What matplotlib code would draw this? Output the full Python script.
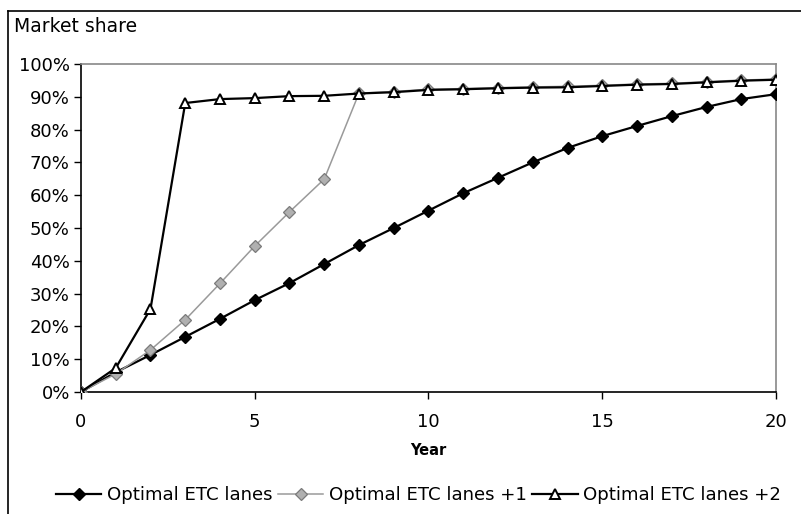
import matplotlib
matplotlib.use("Agg")
import matplotlib.pyplot as plt
from matplotlib.lines import Line2D
from matplotlib.ticker import FuncFormatter, MultipleLocator

years = list(range(0, 21))
optimal = [0, 6, 11.3, 16.8, 22.3, 28.0, 33.2, 39.0, 44.8, 50.0, 55.3,
           60.6, 65.3, 70.0, 74.4, 78.0, 81.1, 84.1, 86.9, 89.3, 90.8]
optimal_plus1 = [0, 5.5, 12.8, 22.0, 33.1, 44.5, 54.9, 64.9, 91.1, 91.6, 92.3,
                 92.5, 92.8, 93.0, 93.2, 93.5, 93.9, 94.1, 94.6, 95.1, 95.4]
optimal_plus2 = [0, 7.3, 25.3, 88.1, 89.3, 89.6, 90.2, 90.3, 91.0, 91.4, 92.1,
                 92.3, 92.6, 92.8, 92.9, 93.3, 93.7, 93.9, 94.4, 94.9, 95.2]
labels = ["Optimal ETC lanes", "Optimal ETC lanes +1", "Optimal ETC lanes +2"]

plt.rcParams['font.family'] = ['DejaVu Sans']

fig = plt.figure(figsize=(8.01, 5.14), dpi=100)
ax = fig.add_axes([0.1011, 0.2374, 0.8677, 0.6381])

ax.plot(years, optimal, color='black', lw=1.6, marker='D', ms=6,
        mfc='black', mec='black', label=labels[0], zorder=3)
ax.plot(years, optimal_plus1, color='#9a9a9a', lw=1.1, marker='D', ms=6.5,
        mfc='#b0b0b0', mec='#7a7a7a', mew=0.9, label=labels[1], zorder=4)
ax.plot(years, optimal_plus2, color='black', lw=1.6, marker='^', ms=7,
        mfc='white', mec='black', mew=1.4, label=labels[2], zorder=5)

ax.set_xlim(0, 20)
ax.set_ylim(0, 100)
ax.xaxis.set_major_locator(MultipleLocator(5))
ax.yaxis.set_major_locator(MultipleLocator(10))
ax.yaxis.set_major_formatter(FuncFormatter(lambda v, p: f"{int(round(v))}%"))
ax.tick_params(axis='both', direction='out', length=5, width=1.0,
               labelsize=13, colors='black')
ax.tick_params(axis='x', pad=10)
ax.tick_params(axis='y', pad=3)

for side in ('top', 'right'):
    ax.spines[side].set_color('#888888')
    ax.spines[side].set_linestyle((0, (1, 1)))
    ax.spines[side].set_linewidth(1.2)
for side in ('left', 'bottom'):
    ax.spines[side].set_color('black')
    ax.spines[side].set_linewidth(1.2)

ax.set_xlabel("Year", fontsize=10.5, fontweight='bold', labelpad=9)
fig.text(14 / 801, 1 - 26 / 514, "Market share", fontsize=13.5,
         ha='left', va='center')

ax.legend(loc='center', bbox_to_anchor=(0.5 + 18 / 801, 1 - 495 / 514),
          bbox_transform=fig.transFigure, ncol=3, frameon=False,
          fontsize=13.1, handlelength=2.5, handletextpad=0.3,
          columnspacing=0.3, borderaxespad=0)

# outer frame (left and top edges)
fig.add_artist(Line2D([8 / 801, 8 / 801], [0, 1 - 11 / 514],
                      transform=fig.transFigure, color='black', lw=1.2))
fig.add_artist(Line2D([8 / 801, 1], [1 - 11 / 514, 1 - 11 / 514],
                      transform=fig.transFigure, color='black', lw=1.2))

fig.savefig("out.png", dpi=100)
